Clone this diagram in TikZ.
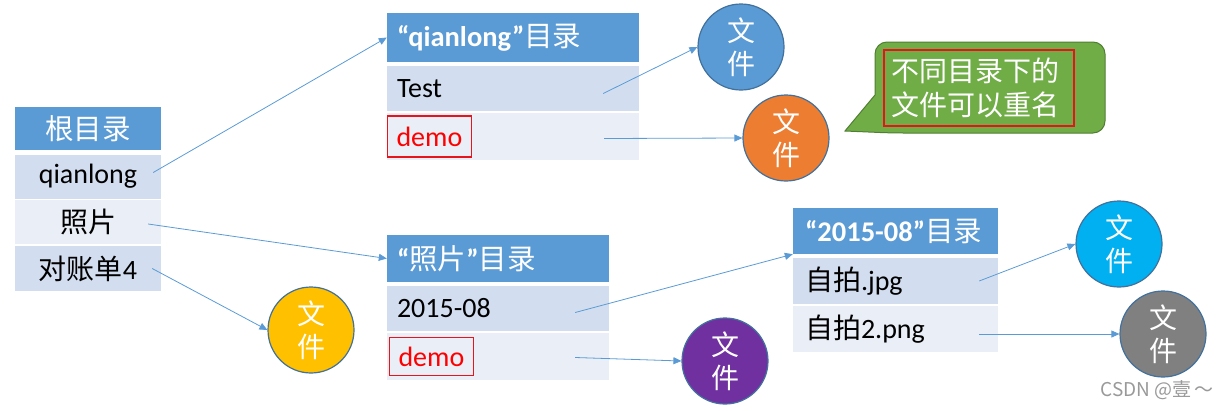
\documentclass[tikz,border=0pt]{standalone}
\usepackage{fontspec}
\setmainfont{Carlito}
\newfontfamily\cjk{Noto Sans CJK SC}
\usetikzlibrary{arrows.meta}
\definecolor{hdr}{HTML}{5B9BD5}
\definecolor{rowa}{HTML}{D2DEEF}
\definecolor{rowb}{HTML}{EAEFF7}
\definecolor{lnk}{HTML}{5B9BD5}
\definecolor{cblue}{HTML}{5B9BD5}
\definecolor{corange}{HTML}{ED7D31}
\definecolor{cyellow}{HTML}{FFC000}
\definecolor{cpurple}{HTML}{7030A0}
\definecolor{ccyan}{HTML}{00B0F0}
\definecolor{cgray}{HTML}{808080}
\definecolor{cedge}{HTML}{41719C}
\definecolor{cgreen}{HTML}{70AD47}
\definecolor{cgreenedge}{HTML}{507E32}
\definecolor{redbox}{HTML}{E8141B}
\newcommand\rowf{\fontsize{28}{33}\selectfont}
\newcommand\hdrf{\fontsize{28.5}{34}\selectfont}
\newcommand\hcjk{\cjk\mdseries}
\begin{document}
\begin{tikzpicture}[x=1pt,y=-1pt,
  cell/.style={rectangle,inner sep=0pt,draw=none},
  hcell/.style={cell,fill=hdr},
  acell/.style={cell,fill=rowa},
  bcell/.style={cell,fill=rowb},
  htxt/.style={text=white,font=\hdrf\bfseries,inner sep=0pt},
  rtxt/.style={text=black,font=\rowf,inner sep=0pt},
  rbox/.style={draw=redbox,line width=1.4pt,text=red,font=\rowf,inner xsep=9pt,inner ysep=0pt},
  file/.style={circle,draw=cedge,line width=1.2pt,minimum size=86pt,inner sep=0pt,text=white,font=\fontsize{28}{33}\selectfont\cjk,align=center},
  arr/.style={draw=lnk,line width=0.8pt,-{Triangle[length=8pt,width=7pt]}}
]
\useasboundingbox (0,0) rectangle (1228,410);

% root table
\node[hcell,minimum width=146pt,minimum height=43pt] (rh) at (88,128.5) {};
\node[htxt] at (rh) {\hcjk 根目录};
\node[acell,minimum width=146pt,minimum height=44pt] (r1) at (88,176.5) {};
\node[rtxt] at (r1) {qianlong};
\node[bcell,minimum width=146pt,minimum height=44pt] (r2) at (88,222) {};
\node[rtxt] at (r2) {\cjk 照片};
\node[acell,minimum width=146pt,minimum height=45pt] (r3) at (88,268.5) {};
\node[rtxt] at (r3) {\cjk 对账单\normalfont 4};

% qianlong table
\node[hcell,minimum width=252pt,minimum height=49pt] (qh) at (513,37.5) {};
\node[htxt,anchor=west] at ([xshift=10pt]qh.west) {“qianlong”\hcjk 目录};
\node[acell,minimum width=252pt,minimum height=45pt] (q1) at (513,88.5) {};
\node[rtxt,anchor=west] at ([xshift=10pt]q1.west) {Test};
\node[bcell,minimum width=252pt,minimum height=47pt] (q2) at (513,136.5) {};
\node[rbox,anchor=west,minimum height=41pt] (qd) at (q2.west) {demo};

% zhaopian table
\node[hcell,minimum width=222pt,minimum height=47pt] (ph) at (498,258.5) {};
\node[htxt,anchor=west] at ([xshift=10pt]ph.west) {“{\hcjk 照片}”\hcjk 目录};
\node[acell,minimum width=222pt,minimum height=45pt] (p1) at (498,308.5) {};
\node[rtxt,anchor=west] at ([xshift=10pt]p1.west) {2015-08};
\node[bcell,minimum width=222pt,minimum height=47pt] (p2) at (498,356.5) {};
\node[rbox,anchor=west,minimum height=38pt] (pd) at ([xshift=2pt]p2.west) {demo};

% 2015-08 table
\node[hcell,minimum width=205pt,minimum height=46pt] (dh) at (895.5,231) {};
\node[htxt,anchor=west] at ([xshift=12pt]dh.west) {“2015-08”\hcjk 目录};
\node[acell,minimum width=205pt,minimum height=46pt] (d1) at (895.5,281) {};
\node[rtxt,anchor=west] at ([xshift=12pt]d1.west) {\cjk 自拍\normalfont .jpg};
\node[bcell,minimum width=205pt,minimum height=46pt] (d2) at (895.5,329) {};
\node[rtxt,anchor=west] at ([xshift=12pt]d2.west) {\cjk 自拍\normalfont 2.png};

% file circles
\node[file,fill=cblue] (fb) at (741,47) {文\\件};
\node[file,fill=corange] (fo) at (786,138) {文\\件};
\node[file,fill=cyellow] (fy) at (311,330) {文\\件};
\node[file,fill=cpurple] (fp) at (725,361) {文\\件};
\node[file,fill=ccyan] (fc) at (1119,244) {文\\件};
\node[file,fill=cgray] (fg) at (1163,334) {文\\件};

% callout
\fill[cgreen,draw=cgreenedge,line width=1pt]
  (875,95) [rounded corners=12pt] -- (875,42) -- (1105,42) -- (1105,133) -- (892,133) [sharp corners] -- (845,131) -- cycle;
\node[draw=redbox,line width=1.4pt,minimum width=190pt,minimum height=76pt,inner xsep=7pt,inner ysep=0pt,
  text=white,font=\fontsize{28}{34}\selectfont\cjk,align=left,text width=176pt] (note) at (979,88) {不同目录下的\\文件可以重名};

% connectors
\draw[arr] ([xshift=-8pt,yshift=4pt]r1.east) -- (qh.west);
\draw[arr] ([xshift=-13pt,yshift=-2pt]r2.east) -- (ph.west);
\draw[arr] ([xshift=-9pt]r3.east) -- (fy.west);
\draw[arr] ([xshift=-36pt,yshift=-5pt]q1.east) -- (fb.west);
\draw[arr] ([xshift=-35pt,yshift=-2pt]q2.east) -- (fo.west);
\draw[arr] ([xshift=-34pt,yshift=-4pt]p1.east) -- (dh.south west);
\draw[arr] ([xshift=-34pt,yshift=-1pt]p2.east) -- (fp.west);
\draw[arr] ([xshift=-19pt]d1.east) -- (fc.west);
\draw[arr] ([xshift=-19pt,yshift=-5pt]d2.east) -- (fg.west);

% watermark
\node[text=gray!80,font=\fontsize{19}{23}\selectfont\cjk,anchor=east,inner sep=0pt] (wm) at (1214,390) {CSDN @壹\,～};
\end{tikzpicture}
\end{document}
